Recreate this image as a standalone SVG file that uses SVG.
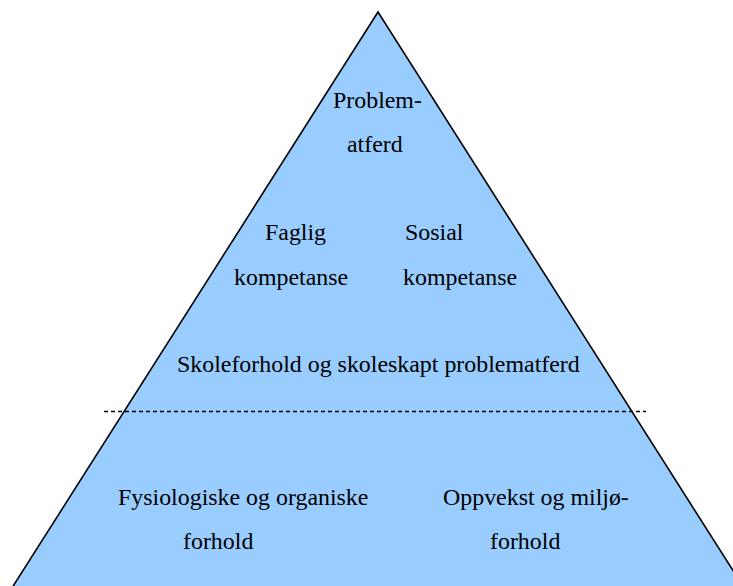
<svg xmlns="http://www.w3.org/2000/svg" width="733" height="586" viewBox="0 0 733 586">
  <style>
    .label { font-family: "Liberation Serif", "Times New Roman", serif; font-size: 23.9px; fill: #000; }
    .pyramid { fill: #99CCFF; stroke: #000; stroke-width: 1.6; stroke-linejoin: miter; }
    .divider { stroke: #000; stroke-width: 1.3; stroke-dasharray: 4 3; fill: none; }
  </style>
  <rect width="733" height="586" fill="#fff"/>

  <g id="pyramid">
    <!-- base runs below the bottom edge of the canvas -->
    <polygon class="pyramid" points="378,12 3,602 753,602"/>
  </g>

  <g id="connectors">
    <line class="divider" x1="104" y1="411.5" x2="646" y2="411.5"/>
  </g>

  <g id="node-problematferd">
    <text class="label" x="333" y="108">Problem-</text>
    <text class="label" x="347" y="152">atferd</text>
  </g>

  <g id="node-faglig">
    <text class="label" x="265" y="240">Faglig</text>
    <text class="label" x="234" y="285">kompetanse</text>
  </g>

  <g id="node-sosial">
    <text class="label" x="405" y="240">Sosial</text>
    <text class="label" x="403" y="285">kompetanse</text>
  </g>

  <g id="node-skoleforhold">
    <text class="label" x="177" y="372">Skoleforhold og skoleskapt problematferd</text>
  </g>

  <g id="node-fysiologiske">
    <text class="label" x="118" y="505">Fysiologiske og organiske</text>
    <text class="label" x="183" y="549">forhold</text>
  </g>

  <g id="node-oppvekst">
    <text class="label" x="443" y="505">Oppvekst og miljø-</text>
    <text class="label" x="490" y="549">forhold</text>
  </g>
</svg>
